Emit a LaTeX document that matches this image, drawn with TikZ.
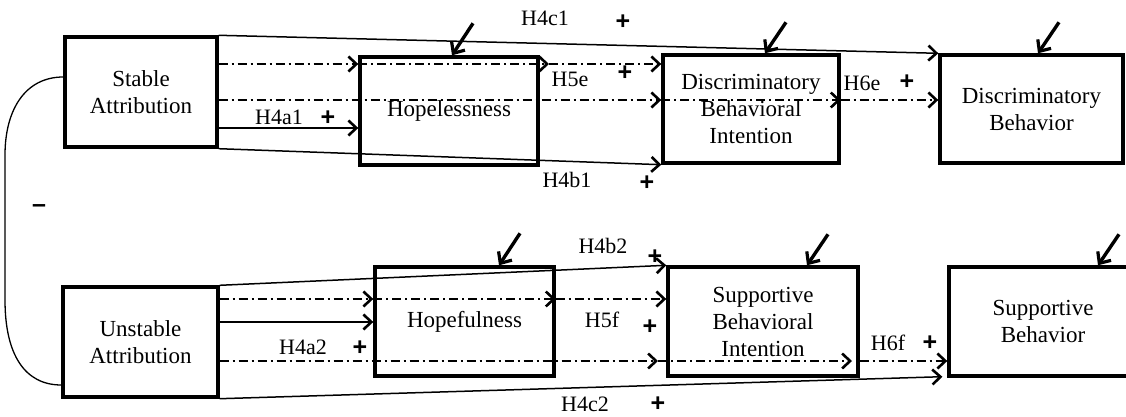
\documentclass[tikz,border=0pt]{standalone}
\usepackage{fontspec}
\setmainfont{Liberation Serif}
\newfontfamily\plusfont{Liberation Sans}
\usetikzlibrary{arrows.meta}
\begin{document}
\begin{tikzpicture}[x=1pt,y=-1pt,
  box/.style={draw, line width=3.4pt, inner sep=0pt, align=center,
    font=\fontsize{23}{27}\selectfont},
  tip/.style={-{Straight Barb[length=8pt,width=15pt,line width=2.6pt]}},
  conn/.style={tip, line width=1.5pt},
  dd/.style={conn, dash pattern=on 9pt off 4pt on 2pt off 4pt},
  dist/.style={line width=3.4pt, -{Straight Barb[length=9pt,width=16pt,line width=3.2pt]}},
  lab/.style={font=\fontsize{22}{22}\selectfont, inner sep=0pt},
  pl/.style={font=\plusfont\bfseries\fontsize{25}{25}\selectfont, inner sep=0pt},
  curve/.style={line width=1.3pt}
]
\clip (0,0) rectangle (1126,417);
\fill[white] (0,0) rectangle (1126,417);

% boxes
\node[box, minimum width=152pt, minimum height=110pt] (stable) at (141,92) {Stable\\Attribution};
\node[box, minimum width=178pt, minimum height=108pt] (hopeless) at (449,111) {Hopelessness};
\node[box, minimum width=176pt, minimum height=108pt] (dbi) at (751,109) {Discriminatory\\Behavioral\\Intention};
\node[box, minimum width=183pt, minimum height=108pt] (db) at (1031.5,109) {Discriminatory\\Behavior};
\node[box, minimum width=155pt, minimum height=110pt] (unstable) at (140.5,342) {Unstable\\Attribution};
\node[box, minimum width=179pt, minimum height=109pt] (hopeful) at (464.5,321.5) {Hopefulness};
\node[box, minimum width=190pt, minimum height=109pt] (sbi) at (763,321.5) {Supportive\\Behavioral\\Intention};
\node[box, minimum width=188pt, minimum height=109pt] (sb) at (1043,321.5) {Supportive\\Behavior};

% helper levels
\coordinate (yA) at (0,64);
\coordinate (yB) at (0,100);
\coordinate (yC) at (0,128);
\coordinate (yD) at (0,299);
\coordinate (yE) at (0,322);
\coordinate (yF) at (0,361);
\coordinate (yCa) at (0,77);
\coordinate (yCb) at (0,385);
\coordinate (h5e) at (549,64);
\coordinate (u1) at (658,361);
\coordinate (u2) at (852,361);

% upper connectors
\draw[conn] (stable.north east) -- (db.north west);
\draw[dd] (stable.east |- yA) -- (hopeless.west |- yA);
\draw[dd] (hopeless.west |- yA) -- (h5e);
\draw[dd] (h5e) -- (dbi.west |- yA);
\draw[dd] (stable.east |- yB) -- (dbi.west |- yB);
\draw[dd] (dbi.west |- yB) -- (dbi.east |- yB);
\draw[dd] (dbi.east |- yB) -- (db.west |- yB);
\draw[conn] (stable.east |- yC) -- (hopeless.west |- yC);
\draw[conn] (stable.south east) -- (dbi.south west);

% lower connectors
\draw[conn] (unstable.north east) -- (sbi.north west);
\draw[dd] (unstable.east |- yD) -- (hopeful.west |- yD);
\draw[dd] (hopeful.west |- yD) -- (hopeful.east |- yD);
\draw[dd] (hopeful.east |- yD) -- (sbi.west |- yD);
\draw[conn] (unstable.east |- yE) -- (hopeful.west |- yE);
\draw[dd] (unstable.east |- yF) -- (u1);
\draw[dd] (u1) -- (u2);
\draw[dd] (sbi.east |- yF) -- (sb.west |- yF);
\draw[conn] (unstable.south east) -- ([xshift=-5pt,yshift=1pt]sb.south west);

% correlation curve
\draw[curve] (stable.west |- yCa) .. controls (25,77) and (5,110) .. (5,155)
  -- (5,300) .. controls (5,355) and (25,385) .. (unstable.west |- yCb);

% disturbance arrows
\draw[dist] ([shift={(24,-32)}]hopeless.north) -- ([xshift=3pt]hopeless.north);
\draw[dist] ([shift={(35,-31)}]dbi.north) -- ([xshift=14pt]dbi.north);
\draw[dist] ([shift={(27.5,-31)}]db.north) -- ([xshift=6.5pt]db.north);
\draw[dist] ([shift={(55.5,-32)}]hopeful.north) -- ([xshift=34.5pt]hopeful.north);
\draw[dist] ([shift={(65,-31)}]sbi.north) -- ([xshift=44pt]sbi.north);
\draw[dist] ([shift={(76,-31)}]sb.north) -- ([xshift=55pt]sb.north);

% labels
\node[lab] (lH4c1) at (545,18) {H4c1};
\node[pl]  (pH4c1) at (623,22) {+};
\node[lab] (lH5e) at (570,79) {H5e};
\node[pl]  (pH5e) at (625,73) {+};
\node[lab] (lH4a1) at (279,117) {H4a1};
\node[pl]  (pH4a1) at (328,118) {+};
\node[lab] (lH4b1) at (567,180) {H4b1};
\node[pl]  (pH4b1) at (647,183) {+};
\node[lab] (lH6e) at (862,83) {H6e};
\node[pl]  (pH6e) at (907,82) {+};
\node[lab] (lH4b2) at (603,246) {H4b2};
\node[pl]  (pH4b2) at (655,257) {+};
\node[lab] (lH5f) at (602,320) {H5f};
\node[pl]  (pH5f) at (650,327) {+};
\node[lab] (lH4a2) at (303,347) {H4a2};
\node[pl]  (pH4a2) at (360,348) {+};
\node[lab] (lH6f) at (888,343) {H6f};
\node[pl]  (pH6f) at (930,343) {+};
\node[lab] (lH4c2) at (585,404) {H4c2};
\node[pl]  (pH4c2) at (658,404) {+};
\node[pl]  (minus) at (39,209) {–};
\end{tikzpicture}
\end{document}
